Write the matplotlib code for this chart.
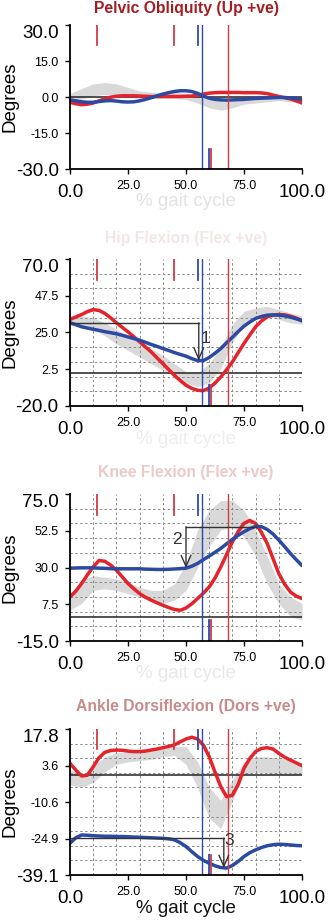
import numpy as np
import matplotlib
matplotlib.use("Agg")
import matplotlib.pyplot as plt

plt.rcParams['font.family'] = ['Liberation Sans', 'DejaVu Sans']

# ---------------- data ----------------
pct = np.arange(0, 100.1, 2.5)          # % gait cycle for curves
band_pct = np.arange(0, 100.1, 5)       # % gait cycle for normative band

titles = ["Pelvic Obliquity (Up +ve)", "Hip Flexion (Flex +ve)",
          "Knee Flexion (Flex +ve)", "Ankle Dorsiflexion (Dors +ve)"]
y_limits = [(-30.0, 30.0), (-20.0, 70.0), (-15.0, 75.0), (-39.1, 17.8)]
y_tick_labels = [["-30.0", "-15.0", "0.0", "15.0", "30.0"],
                 ["-20.0", "2.5", "25.0", "47.5", "70.0"],
                 ["-15.0", "7.5", "30.0", "52.5", "75.0"],
                 ["-39.1", "-24.9", "-10.6", "3.6", "17.8"]]
x_ticks = [0, 25, 50, 75, 100]
x_tick_labels = ["0.0", "25.0", "50.0", "75.0", "100.0"]

pelvis_red = [-2.2, -2.8, -3.2, -3.0, -2.5, -1.6, -0.8, -0.1, 0.3, 0.5, 0.5, 0.5, 0.4, 0.3,
              0.2, 0.2, 0.2, 0.2, 0.2, 0.2, 0.3, 0.4, 0.7, 1.2, 1.6, 1.8, 1.9, 1.9, 1.9, 1.9,
              1.8, 1.8, 1.8, 1.7, 1.4, 0.8, 0.2, -0.3, -0.8, -1.6, -2.5]
pelvis_blue = [-1.2, -1.6, -2.0, -2.2, -2.2, -1.9, -1.6, -1.5, -1.7, -2.0, -2.1, -2.0, -1.6,
               -1.0, -0.3, 0.5, 1.2, 1.8, 2.3, 2.6, 2.6, 2.3, 1.5, 0.4, -0.5, -1.0, -1.2, -1.3,
               -1.2, -1.1, -1.0, -0.8, -0.6, -0.5, -0.4, -0.3, -0.2, -0.2, -0.4, -0.7, -1.0]
pelvis_band_lo = [-1.5, -1.0, 0.5, 1.0, 0.5, 0.0, -0.5, -0.5, -0.5, -0.5, -1.0, -2.5, -4.5,
                  -5.5, -4.5, -3.0, -2.5, -2.0, -1.5, -2.0, -2.5]
pelvis_band_hi = [1.5, 3.5, 5.5, 6.0, 5.5, 4.0, 2.5, 2.0, 2.0, 2.0, 1.5, 1.0, -0.5, -1.0,
                  -0.5, 0.0, 0.0, 0.5, 0.5, 0.0, -0.5]

hip_red = [33.0, 34.5, 36.0, 37.8, 39.0, 38.5, 36.7, 34.0, 30.9, 28.2, 25.4, 22.4, 19.3, 16.2,
           13.1, 9.5, 6.0, 2.4, -1.2, -4.4, -7.3, -9.2, -10.4, -10.6, -9.0, -6.0, -2.2, 2.2,
           7.0, 12.7, 18.3, 23.5, 28.5, 32.0, 34.6, 35.7, 36.0, 35.8, 35.0, 33.8, 32.2]
hip_blue = [31.0, 29.8, 28.5, 27.7, 27.0, 26.3, 25.5, 24.9, 24.2, 23.3, 22.3, 21.3, 20.3, 19.0,
            17.7, 16.5, 15.2, 14.0, 12.7, 11.6, 10.5, 9.0, 7.8, 7.8, 9.7, 12.3, 15.2, 18.7,
            22.1, 25.6, 28.9, 31.4, 33.6, 34.8, 35.6, 35.8, 35.6, 35.2, 34.4, 33.4, 32.2]
hip_band_lo = [29, 29, 27, 23, 18, 14, 10, 6, 2, -2, -6, -8, -6, 3, 19, 30, 34, 35, 33, 31, 30]
hip_band_hi = [35, 35, 34, 31, 27, 23, 19, 15, 11, 6, 1, 0, 6, 16, 30, 38, 40, 41, 39, 37, 35]

knee_red = [12.0, 15.5, 20.2, 25.5, 30.4, 34.3, 33.8, 31.5, 28.4, 24.3, 20.2, 17.0, 14.0, 11.8,
            10.0, 8.4, 6.9, 5.5, 4.3, 3.8, 5.2, 7.8, 11.0, 14.3, 18.1, 23.5, 30.4, 38.0, 45.7,
            52.0, 57.0, 58.8, 57.0, 51.5, 44.7, 35.5, 26.3, 19.8, 15.0, 12.5, 11.0]
knee_blue = [29.6, 29.7, 29.8, 29.8, 29.8, 29.6, 29.5, 29.3, 29.2, 29.2, 29.2, 29.2, 29.2, 29.0,
             28.9, 28.8, 28.8, 28.9, 29.1, 29.3, 29.6, 30.8, 32.5, 34.8, 37.0, 39.3, 41.7, 44.5,
             47.2, 49.7, 51.9, 53.8, 55.2, 55.0, 53.3, 50.5, 46.8, 42.8, 38.6, 34.8, 31.2]
knee_band_lo = [4, 8, 16, 17, 16, 14, 12, 10, 8, 10, 16, 30, 43, 53, 55, 49, 37, 20, 8, 0, -2]
knee_band_hi = [14, 22, 25, 24, 23, 21, 18, 16, 16, 20, 32, 53, 65, 71, 71, 65, 53, 37, 20, 12, 8]

ankle_red = [4.4, 1.8, -0.5, -0.2, 3.1, 6.6, 8.7, 9.4, 9.6, 9.5, 9.2, 9.0, 9.0, 9.2, 9.6, 10.0,
             10.5, 11.0, 11.6, 12.8, 13.9, 14.6, 13.9, 11.5, 7.0, 1.0, -4.7, -8.6, -8.0, -3.8,
             2.5, 6.3, 9.0, 10.2, 10.5, 10.0, 8.3, 6.8, 5.7, 4.6, 3.5]
ankle_blue = [-26.7, -24.6, -23.5, -23.6, -23.8, -23.9, -24.0, -24.0, -24.1, -24.1, -24.2, -24.3,
              -24.4, -24.5, -24.6, -24.7, -24.8, -25.0, -25.4, -26.5, -28.0, -30.0, -31.9, -33.4,
              -34.5, -35.5, -36.2, -36.4, -35.4, -33.8, -31.9, -30.4, -29.3, -28.4, -27.7, -27.3,
              -27.1, -27.2, -27.4, -27.6, -27.7]
ankle_band_lo = [-4, -5, -3, 1, 4, 5, 5.5, 6, 7, 7.5, 4, -5, -17, -21, -10, 0, 1, 0.5, 0, 0, 0]
ankle_band_hi = [2, 0, 3, 7, 8.5, 9, 9, 9.5, 10, 11, 11, 5, -5, -10, -2, 5, 7, 7, 6.5, 5.5, 4.5]

# gait events (% cycle)
red_top_events = [11.6, 44.7]
blue_top_events = [55.0]
blue_full_event = 57.0
red_full_event = 68.0
blue_bottom_event = 60.0
red_bottom_event = 60.8

# annotations: (label, x of arrow, y start, y end, horizontal x from, horizontal x to, label x, label y)
annotations = [None,
               ("1", 55.5, 30.9, 7.8, 0.0, 55.5, 58.5, 21.2),
               ("2", 50.0, 55.0, 29.6, 50.0, 80.5, 46.3, 47.0),
               ("3", 66.3, -24.7, -36.4, 0.0, 66.3, 68.8, -25.7)]

reds = [pelvis_red, hip_red, knee_red, ankle_red]
blues = [pelvis_blue, hip_blue, knee_blue, ankle_blue]
bands_lo = [pelvis_band_lo, hip_band_lo, knee_band_lo, ankle_band_lo]
bands_hi = [pelvis_band_hi, hip_band_hi, knee_band_hi, ankle_band_hi]

# ---------------- style / layout ----------------
W, H = 328, 922
fig = plt.figure(figsize=(W / 100, H / 100), dpi=100)
panel_px = [(25, 169), (259, 406), (494, 641), (729, 875)]
title_off_px = [16, 20.5, 21.5, 22.5]
title_colors = ['#a31d22', '#f4e6e6', '#ecc9c9', '#c98a8a']
xlabel_colors = ['#e2e2e2', '#eeeeee', '#e8e8e8', '#111111']
use_grid = [False, True, True, True]

RED = '#e5232b'
BLUE = '#2d4aa3'
RED_EV = '#d23a44'
BLUE_EV = '#2f4bb0'
BAND = '#d9d9d9'
BIG = 13.5
SMALL = 9

for i in range(4):
    top, bot = panel_px[i]
    ax = fig.add_axes([70 / W, 1 - bot / H, 232 / W, (bot - top) / H])
    y0, y1 = y_limits[i]
    ax.set_xlim(0, 100)
    ax.set_ylim(y0, y1)

    ax.fill_between(band_pct, bands_lo[i], bands_hi[i], color=BAND, lw=0, zorder=1)
    if use_grid[i]:
        ax.set_xticks(np.linspace(0, 100, 11), minor=True)
        ax.set_yticks(np.linspace(y0, y1, 11), minor=True)
        ax.grid(which='minor', color='#8a8a8a', lw=0.7, ls=(0, (2.5, 2.5)), zorder=1.5)
        ax.tick_params(which='minor', length=0)
    ax.axhline(0, color='#222222', lw=1.1, zorder=2)

    ax.plot(pct, reds[i], color=RED, lw=2.5, solid_capstyle='round', zorder=3)
    ax.plot(pct, blues[i], color=BLUE, lw=2.5, solid_capstyle='round', zorder=3.1)

    for e in red_top_events:
        ax.axvline(e, ymin=0.86, ymax=1.0, color=RED_EV, lw=1.3, zorder=4)
    for e in blue_top_events:
        ax.axvline(e, ymin=0.86, ymax=1.0, color=BLUE_EV, lw=1.3, zorder=4)
    ax.axvline(blue_full_event, color=BLUE_EV, lw=1.0, zorder=4)
    ax.axvline(red_full_event, color=RED_EV, lw=1.0, zorder=4)
    ax.axvline(blue_bottom_event, ymin=0, ymax=0.14, color=BLUE_EV, lw=1.3, zorder=4)
    ax.axvline(red_bottom_event, ymin=0, ymax=0.14, color=RED_EV, lw=1.3, zorder=4)

    ann = annotations[i]
    if ann is not None:
        lab, ax_x, ys, ye, hx0, hx1, lx, ly = ann
        ax.plot([hx0, hx1], [ys, ys], color='#333333', lw=1.0, zorder=5)
        ax.annotate('', xy=(ax_x, ye), xytext=(ax_x, ys),
                    arrowprops=dict(arrowstyle='->, head_length=0.8, head_width=0.35',
                                    color='#333333', lw=1.0, shrinkA=0, shrinkB=0),
                    zorder=5)
        ax.text(lx, ly, lab, fontsize=12.5, color='#333333', ha='center', va='center',
                zorder=5)

    # spines
    for s in ('top', 'right'):
        ax.spines[s].set_visible(False)
    for s in ('left', 'bottom'):
        ax.spines[s].set_linewidth(1.3)
        ax.spines[s].set_zorder(6)

    # ticks
    yt = np.linspace(y0, y1, 5)
    ax.set_yticks(yt, labels=y_tick_labels[i])
    ax.set_xticks(x_ticks, labels=x_tick_labels)
    ax.tick_params(which='major', direction='out', length=3.6, width=1.0, pad=4.5,
                   color='black', labelcolor='black')
    for k, t in enumerate(ax.yaxis.get_major_ticks()):
        if k == 4:
            t.label1.set_fontsize(BIG)
            t.label1.set_va('top')
        elif k == 0:
            t.label1.set_fontsize(BIG)
            t.label1.set_va('center_baseline')
        else:
            t.label1.set_fontsize(SMALL)
            t.label1.set_va('center_baseline')
    for k, t in enumerate(ax.xaxis.get_major_ticks()):
        if k in (0, 4):
            t.set_pad(7.5)
            t.label1.set_fontsize(BIG)
        else:
            t.label1.set_fontsize(SMALL)

    ax.set_ylabel('Degrees', fontsize=BIG, va='center')
    ax.yaxis.set_label_coords(-60 / 232, 0.5)
    ax.set_xlabel('% gait cycle', fontsize=BIG, va='center', color=xlabel_colors[i])
    ax.xaxis.set_label_coords(0.5, -33 / (bot - top))

    ax.set_title(titles[i], fontsize=11.3, fontweight='bold', color=title_colors[i],
                 y=1 + title_off_px[i] / (bot - top), pad=0, va='center')
    ax.set_facecolor('white')

fig.savefig('out.png', dpi=100, facecolor='white')
